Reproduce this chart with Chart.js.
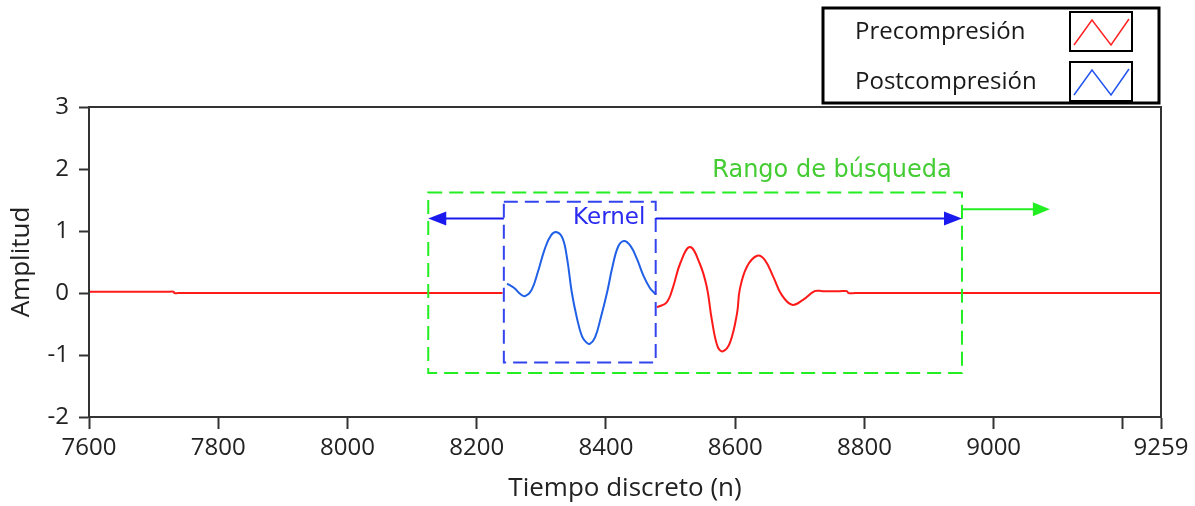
<!DOCTYPE html>
<html>
<head>
<meta charset="utf-8">
<script src="https://cdn.jsdelivr.net/npm/chart.js@4/dist/chart.umd.min.js"></script>
<style>
  body { margin: 0; background: #fff; }
  #wrap { width: 1195px; height: 506px; }
</style>
</head>
<body>
<div id="wrap"><canvas id="chart" width="1195" height="506"></canvas></div>
<script>
// axis ticks
const xTicks = [7600, 7800, 8000, 8200, 8400, 8600, 8800, 9000, 9200, 9259];
const xTickLabels = ['7600', '7800', '8000', '8200', '8400', '8600', '8800', '9000', '', '9259'];
const yTicks = [-2, -1, 0, 1, 2, 3];

// Precompresion (red) - null is the gap where the kernel sits
const preN = [7600, 7722, 7731, 7732, 7742, 8230, 8240, 8241,
  8479, 8494, 8504, 8515, 8530, 8545, 8556, 8564, 8573, 8581, 8592, 8603, 8607, 8618, 8634,
  8646, 8659, 8672, 8688, 8705, 8723, 8735, 8762, 8773, 8775, 8786, 9259];
const preAmp = [0.02, 0.02, 0.02, 0, 0, 0, 0, null,
  -0.23, -0.15, 0.1, 0.48, 0.74, 0.48, 0.1, -0.44, -0.87, -0.94, -0.8, -0.32, 0.05, 0.42, 0.6,
  0.53, 0.26, -0.03, -0.19, -0.11, 0.03, 0.03, 0.03, 0.03, 0, 0, 0];

// Postcompresion (blue) - kernel
const postN = [8247, 8258, 8268, 8275, 8285, 8295, 8305, 8315, 8324, 8333, 8340, 8347, 8355, 8363,
  8370, 8375, 8383, 8392, 8402, 8410, 8419, 8428, 8438, 8448, 8458, 8468, 8477];
const postAmp = [0.15, 0.08, -0.02, -0.05, 0.05, 0.35, 0.7, 0.93, 0.98, 0.88, 0.55, 0.02, -0.4, -0.7,
  -0.8, -0.82, -0.72, -0.4, 0.02, 0.42, 0.75, 0.84, 0.76, 0.55, 0.28, 0.08, -0.02];

// annotation boxes (data units)
const searchRange = [8125, 8951];
const searchAmp = [-1.29, 1.62];
const kernelRange = [8242, 8477];
const kernelAmp = [-1.12, 1.47];
const arrowAmp = 1.2;
const greenArrowEnd = 9087;
const greenArrowAmp = 1.35;

const FONT = '"Open Sans", "DejaVu Sans", sans-serif';
const WIDE = '"DejaVu Sans", sans-serif';

function arrowHead(ctx, x, y, dir, len, half) {
  ctx.beginPath();
  ctx.moveTo(x, y);
  ctx.lineTo(x - dir * len, y - half);
  ctx.lineTo(x - dir * len, y + half);
  ctx.closePath();
  ctx.fill();
}

const annotations = {
  id: 'annotations',
  afterDatasetsDraw(chart) {
    const ctx = chart.ctx;
    const xs = chart.scales.x, ys = chart.scales.y;
    const a = chart.chartArea;
    ctx.save();

    // frame top + right
    ctx.strokeStyle = '#333';
    ctx.lineWidth = 2;
    ctx.strokeRect(a.left, a.top, a.right - a.left, a.bottom - a.top);

    // search range box
    const gx1 = xs.getPixelForValue(searchRange[0]), gx2 = xs.getPixelForValue(searchRange[1]);
    const gy1 = ys.getPixelForValue(searchAmp[1]), gy2 = ys.getPixelForValue(searchAmp[0]);
    ctx.setLineDash([14, 7]);
    ctx.strokeStyle = '#22ee22';
    ctx.lineWidth = 2;
    ctx.strokeRect(gx1, gy1, gx2 - gx1, gy2 - gy1);

    // kernel box
    const bx1 = xs.getPixelForValue(kernelRange[0]), bx2 = xs.getPixelForValue(kernelRange[1]);
    const by1 = ys.getPixelForValue(kernelAmp[1]), by2 = ys.getPixelForValue(kernelAmp[0]);
    ctx.strokeStyle = '#3344ee';
    ctx.strokeRect(bx1, by1, bx2 - bx1, by2 - by1);
    ctx.setLineDash([]);

    // blue arrows
    const ay = ys.getPixelForValue(arrowAmp);
    ctx.strokeStyle = '#1a1aee';
    ctx.fillStyle = '#1a1aee';
    ctx.lineWidth = 2;
    ctx.beginPath();
    ctx.moveTo(bx1, ay); ctx.lineTo(gx1 + 10, ay);
    ctx.moveTo(bx2, ay); ctx.lineTo(gx2 - 10, ay);
    ctx.stroke();
    arrowHead(ctx, gx1, ay, -1, 18, 7);
    arrowHead(ctx, gx2, ay, 1, 18, 7);

    // green arrow
    const gay = ys.getPixelForValue(greenArrowAmp);
    const gax = xs.getPixelForValue(greenArrowEnd);
    ctx.strokeStyle = '#22ee22';
    ctx.fillStyle = '#22ee22';
    ctx.beginPath();
    ctx.moveTo(gx2, gay); ctx.lineTo(gax - 10, gay);
    ctx.stroke();
    arrowHead(ctx, gax, gay, 1, 17, 7);

    // labels
    ctx.textAlign = 'right';
    ctx.textBaseline = 'middle';
    ctx.font = '23px ' + WIDE;
    ctx.fillStyle = '#2a2af0';
    ctx.fillText('Kernel', xs.getPixelForValue(8461), ay - 1);
    ctx.font = '24px ' + WIDE;
    ctx.fillStyle = '#44cc33';
    ctx.fillText('Rango de búsqueda', xs.getPixelForValue(8935), ys.getPixelForValue(1.97));

    // legend box
    ctx.strokeStyle = '#000';
    ctx.lineWidth = 3;
    ctx.strokeRect(823, 8, 336, 95);
    const entries = [['Precompresión', '#ff2222', 12], ['Postcompresión', '#2255ee', 62]];
    ctx.font = '24px ' + FONT;
    ctx.textAlign = 'left';
    ctx.textBaseline = 'alphabetic';
    entries.forEach(([label, color, top]) => {
      ctx.fillStyle = '#1a1a1a';
      ctx.fillText(label, 855, top + 27);
      ctx.strokeStyle = '#000';
      ctx.lineWidth = 2;
      ctx.strokeRect(1070, top, 62, 39);
      ctx.strokeStyle = color;
      ctx.lineWidth = 1.5;
      ctx.beginPath();
      ctx.moveTo(1074, top + 33);
      ctx.lineTo(1092, top + 8);
      ctx.lineTo(1111, top + 33);
      ctx.lineTo(1129, top + 7);
      ctx.stroke();
    });
    ctx.restore();
  }
};

new Chart(document.getElementById('chart'), {
  type: 'line',
  data: {
    datasets: [
      {
        label: 'Precompresión',
        data: preN.map((n, i) => ({ x: n, y: preAmp[i] })),
        borderColor: '#ff1a1a',
        borderWidth: 2,
        pointRadius: 0,
        spanGaps: false,
        tension: 0.4
      },
      {
        label: 'Postcompresión',
        data: postN.map((n, i) => ({ x: n, y: postAmp[i] })),
        borderColor: '#2060e6',
        borderWidth: 2,
        pointRadius: 0,
        tension: 0.4
      }
    ]
  },
  options: {
    responsive: false,
    devicePixelRatio: 1,
    animation: false,
    layout: { padding: { top: 107, right: 34, left: 0, bottom: 0 } },
    plugins: { legend: { display: false }, tooltip: { enabled: false } },
    scales: {
      x: {
        type: 'linear',
        min: 7600,
        max: 9259,
        afterBuildTicks: (scale) => { scale.ticks = xTicks.map(v => ({ value: v })); },
        afterFit: (scale) => { scale.height = 89; },
        ticks: {
          autoSkip: false,
          maxRotation: 0,
          color: '#222',
          font: { size: 24, family: FONT },
          padding: 5,
          callback: (v) => { const i = xTicks.indexOf(v); return i >= 0 ? xTickLabels[i] : ''; }
        },
        grid: { drawOnChartArea: false, drawTicks: true, tickLength: 12, color: '#333', tickWidth: 2 },
        border: { display: true, color: '#333', width: 2 },
        title: { display: true, text: 'Tiempo discreto (n)', color: '#222', font: { size: 26, family: FONT }, padding: { top: 0, bottom: 2 } }
      },
      y: {
        min: -2,
        max: 3,
        afterBuildTicks: (scale) => { scale.ticks = yTicks.map(v => ({ value: v })); },
        afterFit: (scale) => { scale.width = 89; },
        ticks: {
          color: '#222',
          font: { size: 24, family: FONT },
          padding: 10
        },
        grid: { drawOnChartArea: false, drawTicks: true, tickLength: 10, color: '#333', tickWidth: 2 },
        border: { display: true, color: '#333', width: 2 },
        title: { display: true, text: 'Amplitud', color: '#222', font: { size: 26, family: FONT }, padding: { top: 6, bottom: 0 } }
      }
    }
  },
  plugins: [annotations]
});
</script>
</body>
</html>
